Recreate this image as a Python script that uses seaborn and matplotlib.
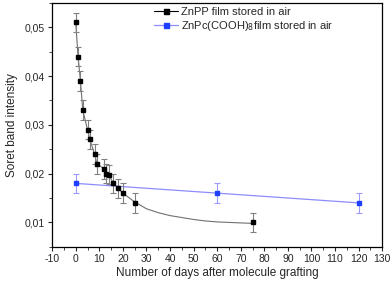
import numpy as np
import pandas as pd
import seaborn as sns
import matplotlib
matplotlib.use('Agg')
from matplotlib import pyplot as plt
from matplotlib.ticker import MultipleLocator, FuncFormatter

# ZnPP film data
znpp_days = [0, 1, 2, 3, 5, 6, 8, 9, 12, 13, 14, 16, 18, 20, 25, 75]
znpp_int = [0.051, 0.044, 0.039, 0.033, 0.029, 0.027, 0.024, 0.022,
            0.021, 0.020, 0.0198, 0.018, 0.017, 0.016, 0.014, 0.010]
znpp_err = [0.002] * len(znpp_days)

# decay curve
curve_days = [0, 1, 2, 3, 5, 6, 8, 9, 12, 13, 14, 16, 18, 20, 25,
              30, 35, 40, 45, 50, 55, 60, 65, 70, 75]
curve_int = [0.051, 0.044, 0.039, 0.033, 0.029, 0.027, 0.024, 0.022,
             0.021, 0.020, 0.0198, 0.018, 0.017, 0.016, 0.0142,
             0.0128, 0.0120, 0.0114, 0.0110, 0.0106, 0.0103, 0.0101,
             0.0100, 0.0099, 0.0098]

# ZnPc(COOH)8 film data
znpc_days = [0, 60, 120]
znpc_int = [0.018, 0.016, 0.014]
znpc_err = [0.002, 0.002, 0.002]

sns.set_style('white')
plt.rcParams['font.family'] = ['Liberation Sans', 'DejaVu Sans']

fig, ax = plt.subplots(figsize=(3.92, 2.85), dpi=100)
fig.subplots_adjust(left=0.133, right=0.975, top=0.99, bottom=0.134)

df_curve = pd.DataFrame({'d': curve_days, 'v': curve_int})
df_pc = pd.DataFrame({'d': znpc_days, 'v': znpc_int})

sns.lineplot(data=df_curve, x='d', y='v', ax=ax, color='#707070', lw=0.8)
sns.lineplot(data=df_pc, x='d', y='v', ax=ax, color='#8c8cff', lw=0.9)

ax.errorbar(znpp_days, znpp_int, yerr=znpp_err, fmt='none', ecolor='#808080',
            elinewidth=0.8, capsize=2, capthick=0.8)
ax.errorbar(znpc_days, znpc_int, yerr=znpc_err, fmt='none', ecolor='#9a9aff',
            elinewidth=0.8, capsize=2, capthick=0.8)

ax.plot(znpp_days, znpp_int, 's', color='black', ms=3.4)
ax.plot(znpc_days, znpc_int, 's', color='#1f3fff', ms=3.4)

# legend proxies
ax.plot([], [], '-s', color='black', mfc='black', ms=3.6, lw=0.8,
        label='ZnPP film stored in air')
ax.plot([], [], '-s', color='#8c8cff', mfc='#1f3fff', mec='#1f3fff', ms=3.6,
        lw=0.9, label='ZnPc(COOH)$_8$film stored in air')
ax.legend(loc='upper left', frameon=False, fontsize=8, handlelength=2.1,
          handletextpad=0.3, labelspacing=0.25, borderaxespad=0.0,
          borderpad=0.0, bbox_to_anchor=(0.31, 0.985))

ax.set_xlim(-10, 130)
ax.set_ylim(0.005, 0.055)
ax.xaxis.set_major_locator(MultipleLocator(10))
ax.xaxis.set_minor_locator(MultipleLocator(5))
ax.yaxis.set_major_locator(MultipleLocator(0.01))
ax.yaxis.set_minor_locator(MultipleLocator(0.005))
ax.yaxis.set_major_formatter(FuncFormatter(lambda v, p: f'{v:.2f}'.replace('.', ',')))
ax.xaxis.set_major_formatter(FuncFormatter(lambda v, p: f'{v:.0f}'))
ax.set_yticks([0.01, 0.02, 0.03, 0.04, 0.05])

ax.tick_params(which='major', direction='out', length=3, width=0.8,
               labelsize=7.5, bottom=True, left=True, pad=2)
ax.tick_params(which='minor', direction='out', length=2, width=0.6,
               bottom=True, left=True)
for s in ax.spines.values():
    s.set_color('black')
    s.set_linewidth(0.9)

ax.set_xlabel('Number of days after molecule grafting', fontsize=8.5, labelpad=2)
ax.set_ylabel('Soret band intensity', fontsize=8.5, labelpad=5)

fig.savefig('out.png', dpi=100)
